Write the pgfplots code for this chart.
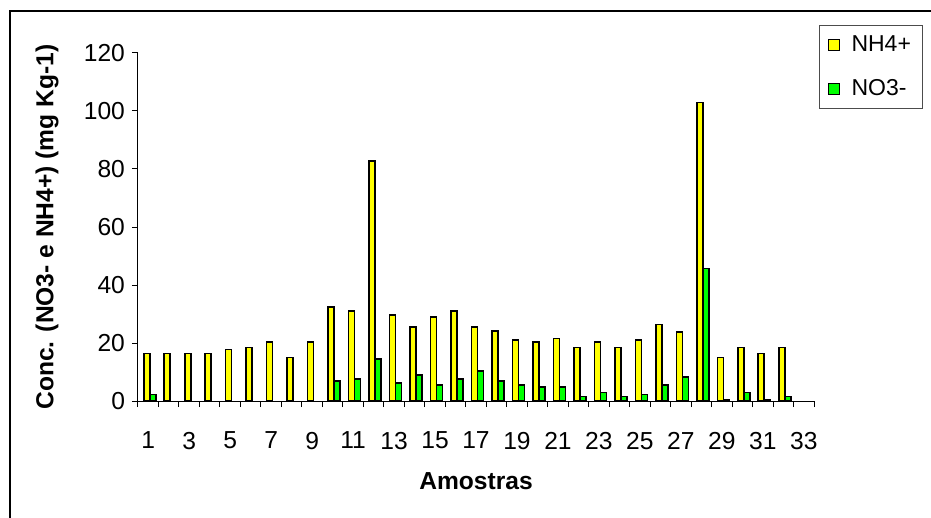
\documentclass[border=0pt]{standalone}
\usepackage{pgfplots}
\pgfplotsset{compat=1.18}
\usepackage{fontspec}
\setmainfont{Liberation Sans}
\definecolor{nhy}{RGB}{255,255,0}
\definecolor{nog}{RGB}{0,255,0}
\begin{document}
\begin{tikzpicture}
\useasboundingbox (0,0) rectangle (465.5pt,-259pt);
\draw[line width=1pt] (4.75pt,-270pt) -- (4.75pt,-5.75pt) -- (470pt,-5.75pt);
\begin{axis}[
  at={(69pt,-200.5pt)}, anchor=south west,
  scale only axis, width=338pt, height=174pt,
  xmin=0.5, xmax=33.5, ymin=0, ymax=120,
  axis x line*=bottom, axis y line*=left,
  axis line style={black, line width=0.5pt, -},
  tick align=outside, major tick length=3pt,
  tick style={black, line width=0.5pt},
  ytick={0,20,...,120},
  xtick={0.5,1.5,...,33.5}, xticklabels={},
  extra x ticks={1,3,...,33},
  extra x tick style={major tick length=0pt, tick style={draw=none}},
  xticklabel style={yshift=-12pt},
  /pgf/number format/assume math mode=true,
  ticklabel style={font=\fontsize{12.3}{14}\selectfont},
  every axis y label/.style={at={(axis description cs:-0.1346,0.5)}, rotate=90, anchor=center},
  every axis x label/.style={at={(axis description cs:0.5,-0.23)}, anchor=center},
  label style={font=\bfseries\fontsize{12.3}{14}\selectfont},
  ylabel={Conc. (NO3- e NH4+) (mg Kg-1)},
  xlabel={Amostras},
  ybar=0pt, bar width=3pt,
  legend cell align=left,
  legend style={at={(axis description cs:1.0074,1.0805)}, anchor=north west,
    draw=black!70, line width=0.5pt, font=\fontsize{11.5}{13}\selectfont,
    inner xsep=4pt, inner ysep=3pt, row sep=8.5pt,
    /tikz/every odd column/.append style={column sep=4pt}},
  legend image code/.code={\draw[#1, line width=0.5pt] (0pt,-2.75pt) rectangle (5.5pt,2.75pt);},
]
\addplot[fill=nhy, draw=black, line width=0.8pt, bar shift=-0.75pt] coordinates {
(1,16.4) (2,16.4) (3,16.4) (4,16.4) (5,17.8) (6,18.4) (7,20.3) (8,15.0)
(9,20.3) (10,32.5) (11,31.1) (12,82.8) (13,29.7) (14,25.6) (15,29.0) (16,31.0)
(17,25.6) (18,24.2) (19,21.0) (20,20.3) (21,21.6) (22,18.4) (23,20.3) (24,18.4)
(25,21.0) (26,26.4) (27,23.7) (28,102.9) (29,15.0) (30,18.4) (31,16.4) (32,18.4)
};
\addplot[fill=nog, draw=black, line width=0.8pt, bar shift=2.25pt] coordinates {
(1,2.2) (10,7.0) (11,7.6) (12,14.4) (13,6.3) (14,9.0) (15,5.6) (16,7.6)
(17,10.3) (18,7.0) (19,5.6) (20,4.8) (21,4.8) (22,1.5) (23,2.9) (24,1.5)
(25,2.2) (26,5.6) (27,8.3) (28,45.7) (29,0.5) (30,2.9) (31,0.5) (32,1.5)
};
\legend{NH4+, NO3-}
\end{axis}
\end{tikzpicture}
\end{document}
